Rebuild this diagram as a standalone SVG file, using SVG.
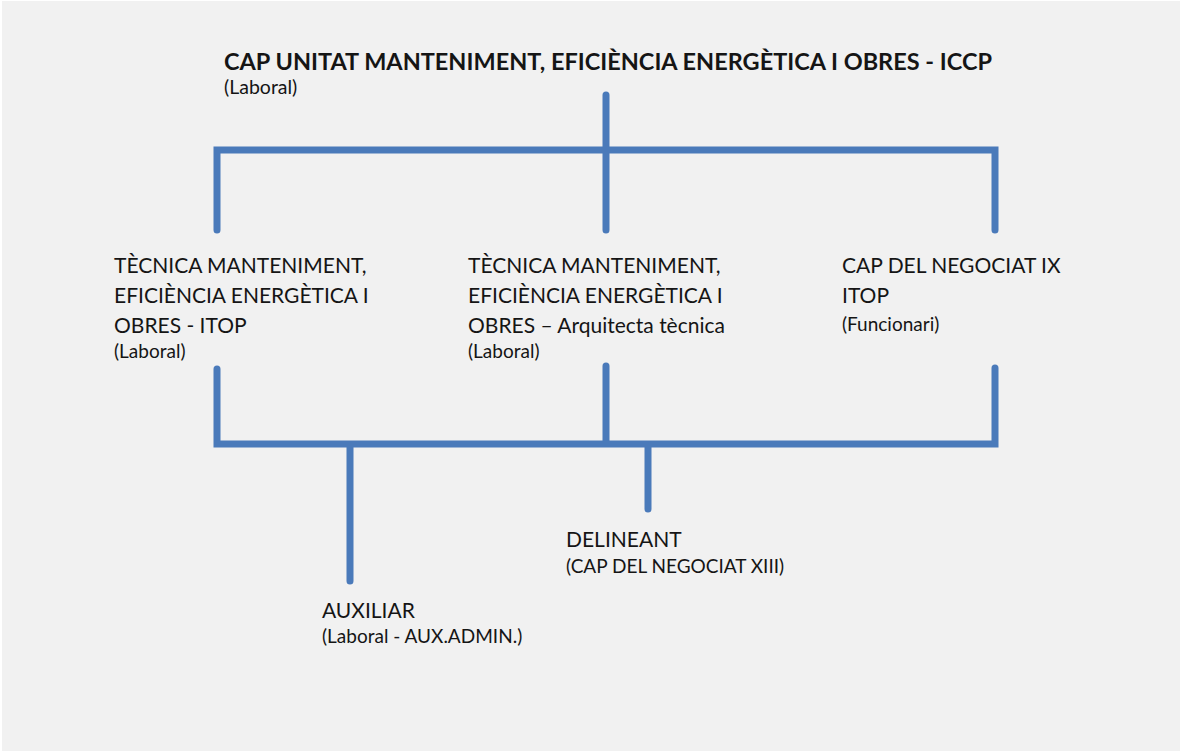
<svg xmlns="http://www.w3.org/2000/svg" width="1183" height="754" viewBox="0 0 1183 754">
<style>
.t{font-family:Lato,"Liberation Sans",sans-serif;fill:#151515}
.title{font-size:22px;font-weight:700}
.n{font-size:21px}
.s{font-size:19px}
.c{stroke:#4a7aba;stroke-width:7;stroke-linecap:round;fill:none}
</style>
<rect width="1183" height="754" fill="#ffffff"/>
<rect x="2" y="1" width="1178" height="750" fill="#f1f1f1"/>
<g id="connectors">
<path class="c" d="M606 95V230M217 230V150H995V230"/>
<path class="c" d="M217 369V444H995V368M606 366V444M350 444V581M648 444V509"/>
</g>
<g id="n-top">
<text class="t title" x="224" y="70" textLength="768" lengthAdjust="spacingAndGlyphs">CAP UNITAT MANTENIMENT, EFICIÈNCIA ENERGÈTICA I OBRES - ICCP</text>
<text class="t s" x="224" y="94" style="font-size:19.5px">(Laboral)</text>
</g>
<g id="n-left">
<text class="t n" x="114" y="273">TÈCNICA MANTENIMENT,</text>
<text class="t n" x="114" y="303">EFICIÈNCIA ENERGÈTICA I</text>
<text class="t n" x="114" y="333">OBRES - ITOP</text>
<text class="t s" x="114" y="358">(Laboral)</text>
</g>
<g id="n-mid">
<text class="t n" x="468" y="273">TÈCNICA MANTENIMENT,</text>
<text class="t n" x="468" y="303">EFICIÈNCIA ENERGÈTICA I</text>
<text class="t n" x="468" y="333">OBRES – Arquitecta tècnica</text>
<text class="t s" x="468" y="358">(Laboral)</text>
</g>
<g id="n-right">
<text class="t n" x="842" y="273">CAP DEL NEGOCIAT IX</text>
<text class="t n" x="842" y="303">ITOP</text>
<text class="t s" x="842" y="331">(Funcionari)</text>
</g>
<g id="n-delineant">
<text class="t n" x="566" y="547">DELINEANT</text>
<text class="t s" x="566" y="573">(CAP DEL NEGOCIAT XIII)</text>
</g>
<g id="n-auxiliar">
<text class="t n" x="322" y="618">AUXILIAR</text>
<text class="t s" x="322" y="643">(Laboral - AUX.ADMIN.)</text>
</g>
</svg>
